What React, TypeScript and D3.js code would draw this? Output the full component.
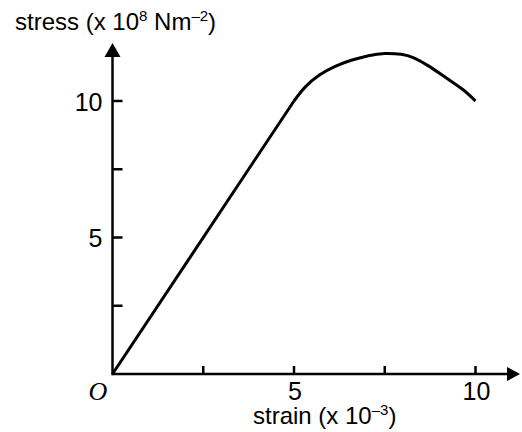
import React from "react";
import * as d3 from "d3";

// Stress–strain curve: linear (elastic) region, then a rounded plastic region
const elasticStrain = [0, 5];
const elasticStress = [0, 10];
const plasticStrain = [5, 5.3, 5.7, 6.15, 6.6, 7.05, 7.5, 7.95, 8.3, 8.75, 9.2, 9.65, 10];
const plasticStress = [10, 10.5, 10.95, 11.28, 11.5, 11.66, 11.74, 11.71, 11.58, 11.25, 10.84, 10.42, 10];

const xTicks = [2.5, 5, 7.5, 10];
const xTickLabels = ["", "5", "", "10"];
const yTicks = [2.5, 5, 7.5, 10];
const yTickLabels = ["", "5", "", "10"];

const W = 522;
const H = 432;

export default function App() {
  const x = d3.scaleLinear().domain([0, 10]).range([112.5, 475.5]);
  const y = d3.scaleLinear().domain([0, 10]).range([374, 101]);

  const linear = d3
    .line<[number, number]>()
    .x((d) => x(d[0]))
    .y((d) => y(d[1]));
  const smooth = d3
    .line<[number, number]>()
    .x((d) => x(d[0]))
    .y((d) => y(d[1]))
    .curve(d3.curveNatural);

  const elastic = elasticStrain.map((s, i) => [s, elasticStress[i]] as [number, number]);
  const plastic = plasticStrain.map((s, i) => [s, plasticStress[i]] as [number, number]);

  const x0 = x(0);
  const y0 = y(0);
  const font = "'Liberation Sans', Arial, sans-serif";

  return (
    <svg
      width={W}
      height={H}
      viewBox={`0 0 ${W} ${H}`}
      style={{ position: "absolute", left: 0, top: 0, background: "#fff" }}
    >
      {/* axes */}
      <line x1={x0} y1={y0} x2={510} y2={y0} stroke="#000" strokeWidth={2.5} />
      <line x1={x0} y1={y0 + 1.2} x2={x0} y2={52} stroke="#000" strokeWidth={2.5} />
      <path d={`M520,${y0} L507,${y0 - 7} L507,${y0 + 7} Z`} fill="#000" />
      <path d={`M${x0},43 L${x0 - 8},57 L${x0 + 8},57 Z`} fill="#000" />

      {/* x ticks */}
      {xTicks.map((t, i) => (
        <g key={`xt${i}`}>
          <line x1={x(t)} x2={x(t)} y1={y0} y2={y0 - 8} stroke="#000" strokeWidth={2.5} />
          {xTickLabels[i] && (
            <text x={x(t) + 1} y={399.5} textAnchor="middle" fontFamily={font} fontSize={25}>
              {xTickLabels[i]}
            </text>
          )}
        </g>
      ))}

      {/* y ticks */}
      {yTicks.map((t, i) => (
        <g key={`yt${i}`}>
          <line x1={x0} x2={x0 + 10} y1={y(t)} y2={y(t)} stroke="#000" strokeWidth={2.5} />
          {yTickLabels[i] && (
            <text x={102.5} y={y(t) + 9.5} textAnchor="end" fontFamily={font} fontSize={25}>
              {yTickLabels[i]}
            </text>
          )}
        </g>
      ))}

      {/* origin */}
      <text
        x={98}
        y={399.5}
        textAnchor="middle"
        fontFamily="'Liberation Serif', 'Times New Roman', serif"
        fontStyle="italic"
        fontSize={26}
      >
        O
      </text>

      {/* curve */}
      <path d={linear(elastic) ?? ""} fill="none" stroke="#000" strokeWidth={3} strokeLinejoin="round" />
      <path d={smooth(plastic) ?? ""} fill="none" stroke="#000" strokeWidth={3} strokeLinejoin="round" />

      {/* axis titles */}
      <text x={15} y={30} fontFamily={font} fontSize={24}>
        stress (x 10
        <tspan fontSize={15} dy={-9}>8</tspan>
        <tspan dy={9}> Nm</tspan>
        <tspan fontSize={15} dy={-9}>–2</tspan>
        <tspan dy={9}>)</tspan>
      </text>
      <text x={253} y={424} fontFamily={font} fontSize={24}>
        strain (x 10
        <tspan fontSize={15} dy={-9}>–3</tspan>
        <tspan dy={9}>)</tspan>
      </text>
    </svg>
  );
}
